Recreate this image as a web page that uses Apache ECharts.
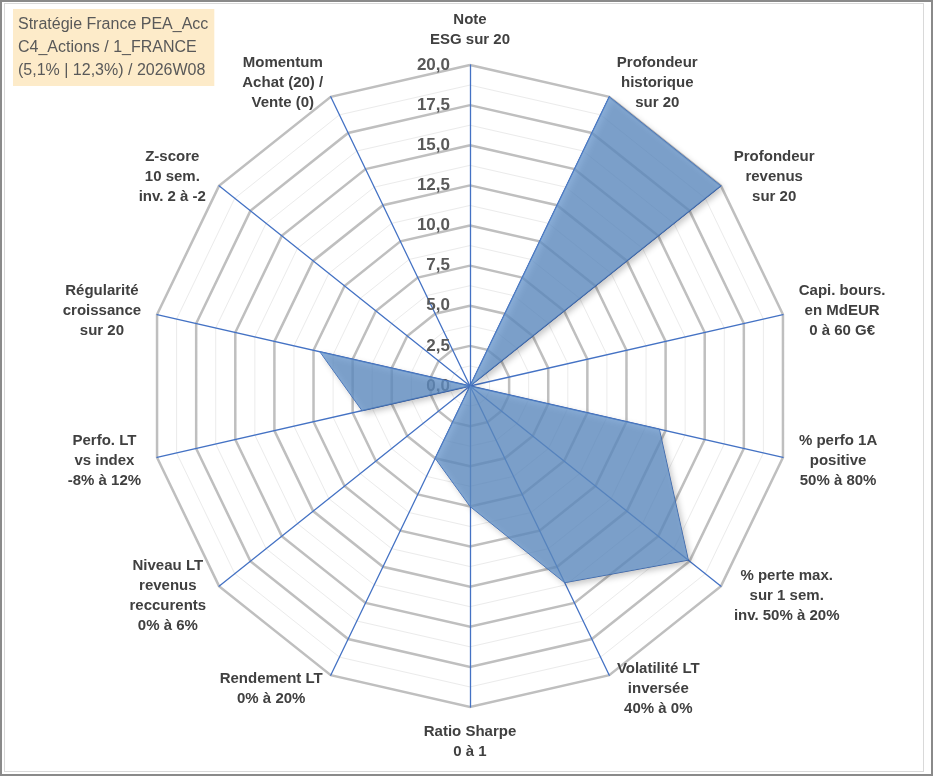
<!DOCTYPE html>
<html>
<head>
<meta charset="utf-8">
<script src="https://cdn.jsdelivr.net/npm/echarts@6/dist/echarts.min.js"></script>
<style>
  html, body { margin: 0; padding: 0; background: #fff; }
  #wrap { position: relative; width: 933px; height: 776px; }
  #main { position: absolute; left: 0; top: 0; width: 933px; height: 776px; }
  .frame { position: absolute; pointer-events: none; box-sizing: border-box; }
</style>
</head>
<body>
<div id="wrap">
  <div id="main"></div>
  <div class="frame" style="left:0;top:0;width:933px;height:776px;border:2px solid #8a8a8a;"></div>
  <div class="frame" style="left:4px;top:3px;width:920px;height:769px;border:1px solid #d9d9d9;"></div>
</div>
<script>
// axes, clockwise from the top
var axisNames = [
  'Note\nESG sur 20',
  'Profondeur\nhistorique\nsur 20',
  'Profondeur\nrevenus\nsur 20',
  'Capi. bours.\nen MdEUR\n0 à 60 G€',
  '% perfo 1A\npositive\n50% à 80%',
  '% perte max.\nsur 1 sem.\ninv. 50% à 20%',
  'Volatilité LT\ninversée\n40% à 0%',
  'Ratio Sharpe\n0 à 1',
  'Rendement LT\n0% à 20%',
  'Niveau LT\nrevenus\nreccurents\n0% à 6%',
  'Perfo. LT\nvs index\n-8% à 12%',
  'Régularité\ncroissance\nsur 20',
  'Z-score\n10 sem.\ninv. 2 à -2',
  'Momentum\nAchat (20) /\nVente (0)'
];
var scores = [0, 20, 20, 0, 12.1, 17.4, 13.6, 7.5, 5.0, 0, 6.9, 9.6, 0, 0];
var scoreMin = 0;
var scoreMax = 20;
var majorSplits = 8;   // 2,5 per ring
var minorSplits = 16;
var titleLines = [
  'Stratégie France PEA_Acc',
  'C4_Actions / 1_FRANCE',
  '(5,1% | 12,3%) / 2026W08'
];

var nameFont = 'bold 15px "Liberation Sans", Arial, sans-serif';
var ctx = document.createElement('canvas').getContext('2d');
ctx.font = nameFont;

// echarts lays radar axes counter-clockwise, so keep the top one and reverse the rest
var order = [0];
for (var k = axisNames.length - 1; k >= 1; k--) order.push(k);

var rich = {};
var keyOf = {};
order.forEach(function (i) {
  var w = 0;
  axisNames[i].split('\n').forEach(function (s) {
    w = Math.max(w, ctx.measureText(s).width);
  });
  rich['n' + i] = {
    width: Math.ceil(w) + 2,
    align: 'center',
    fontFamily: '"Liberation Sans", Arial, sans-serif',
    fontWeight: 'bold',
    fontSize: 15,
    lineHeight: 20,
    color: '#404040'
  };
  keyOf[axisNames[i]] = 'n' + i;
});

var indicators = order.map(function (i, j) {
  var ind = { name: axisNames[i], min: scoreMin, max: scoreMax };
  if (j === 0) ind.axisLabel = { show: true };
  return ind;
});
var plainIndicators = order.map(function (i) {
  return { name: '', min: scoreMin, max: scoreMax };
});

var center = [470, 386];
var radius = 321;

var chart = echarts.init(document.getElementById('main'), null, { renderer: 'canvas' });
chart.setOption({
  backgroundColor: '#ffffff',
  animation: false,
  title: {
    text: titleLines.join('\n'),
    left: 13,
    top: 9,
    padding: [4, 6, 4, 5],
    backgroundColor: '#fdebc9',
    textStyle: {
      fontFamily: '"Liberation Sans", Arial, sans-serif',
      fontWeight: 'normal',
      fontSize: 16,
      lineHeight: 23,
      color: '#595959'
    }
  },
  radar: [
    {
      indicator: plainIndicators,
      center: center,
      radius: radius,
      startAngle: 90,
      shape: 'polygon',
      splitNumber: minorSplits,
      axisName: { show: false },
      axisLine: { show: false },
      axisTick: { show: false },
      axisLabel: { show: false },
      splitArea: { show: false },
      splitLine: { lineStyle: { color: '#ebebeb', width: 1 } }
    },
    {
      indicator: indicators,
      center: center,
      radius: radius,
      startAngle: 90,
      shape: 'polygon',
      splitNumber: majorSplits,
      nameGap: 15,
      axisName: {
        formatter: function (name) {
          return name.split('\n').map(function (s) {
            return '{' + keyOf[name] + '|' + s + '}';
          }).join('\n');
        },
        rich: rich
      },
      axisLine: { lineStyle: { color: '#4472c4', width: 1.3 } },
      axisTick: { show: false },
      axisLabel: {
        show: false,
        showMinLabel: true,
        showMaxLabel: true,
        margin: 20,
        fontFamily: '"Liberation Sans", Arial, sans-serif',
        fontWeight: 'bold',
        fontSize: 17,
        color: '#595959',
        formatter: function (v) { return v.toFixed(1).replace('.', ','); }
      },
      splitArea: { show: false },
      splitLine: { lineStyle: { color: '#bfbfbf', width: 2.5 } }
    }
  ],
  series: [
    {
      type: 'radar',
      radarIndex: 1,
      symbol: 'none',
      lineStyle: { color: '#4472c4', width: 1 },
      areaStyle: {
        color: 'rgba(97,145,201,0.75)',
        opacity: 1,
        shadowColor: 'rgba(0,0,0,0.3)',
        shadowBlur: 6,
        shadowOffsetX: 3,
        shadowOffsetY: 3
      },
      data: [{ value: order.map(function (i) { return scores[i]; }) }]
    }
  ]
});
</script>
</body>
</html>
